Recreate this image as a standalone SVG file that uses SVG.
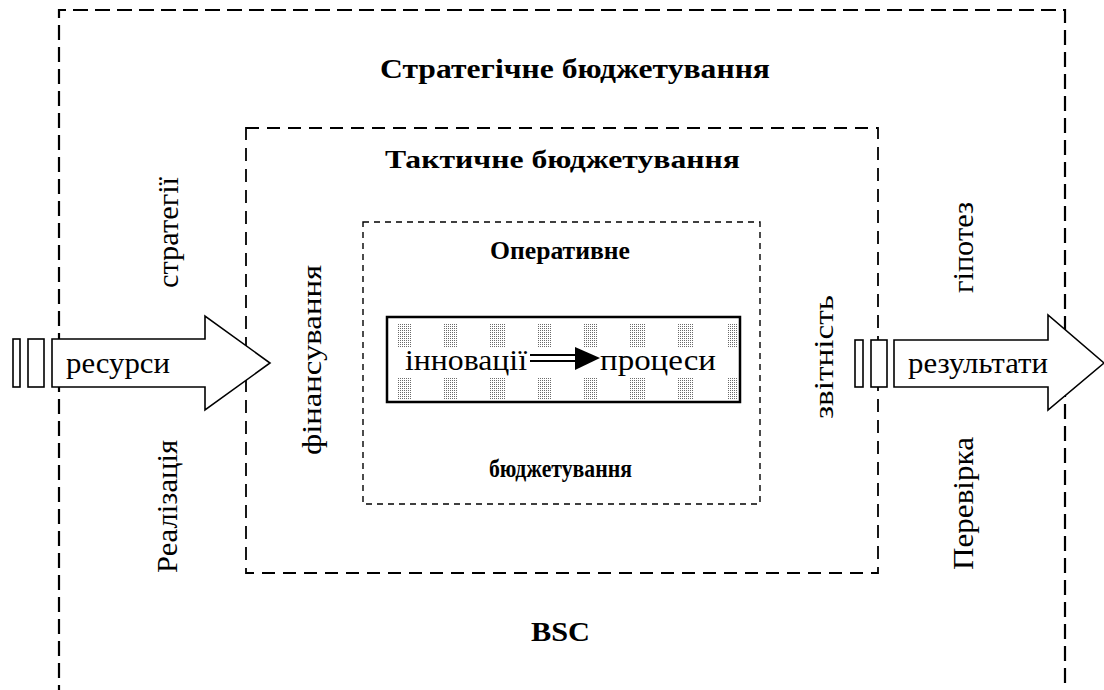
<svg xmlns="http://www.w3.org/2000/svg" width="1104" height="690" viewBox="0 0 1104 690">
<style>
.t{font-family:"Liberation Serif","Times New Roman",serif;fill:#000}
.b{font-weight:bold}
.frame{fill:none;stroke:#000}
.shape{fill:#fff;stroke:#000;stroke-width:1.6}
</style>
<defs>
<pattern id="dots" width="2" height="2" patternUnits="userSpaceOnUse">
<rect x="0" y="0" width="1" height="1" fill="#6a6a6a"/>
</pattern>
</defs>
<rect width="1104" height="690" fill="#fff"/>
<g id="strategic">
<path class="frame" d="M59 700 V10 H1065 V700" stroke-width="2.2" stroke-dasharray="15 7"/>
<text class="t b" x="380" y="78" font-size="28" textLength="390" lengthAdjust="spacingAndGlyphs">Стратегічне бюджетування</text>
<text class="t b" x="531" y="641" font-size="28" textLength="59" lengthAdjust="spacingAndGlyphs">BSC</text>
<text class="t" font-size="29" transform="translate(178 288) rotate(-90)" textLength="111" lengthAdjust="spacingAndGlyphs">стратегії</text>
<text class="t" font-size="29" transform="translate(177 573) rotate(-90)" textLength="133" lengthAdjust="spacingAndGlyphs">Реалізація</text>
<text class="t" font-size="29" transform="translate(973 293) rotate(-90)" textLength="91" lengthAdjust="spacingAndGlyphs">гіпотез</text>
<text class="t" font-size="29" transform="translate(973 570) rotate(-90)" textLength="133" lengthAdjust="spacingAndGlyphs">Перевірка</text>
</g>
<g id="tactical">
<rect class="frame" x="246" y="128" width="632" height="445" stroke-width="1.8" stroke-dasharray="13 8"/>
<text class="t b" x="385" y="168" font-size="26" textLength="355" lengthAdjust="spacingAndGlyphs">Тактичне бюджетування</text>
<text class="t" font-size="28" transform="translate(321 455) rotate(-90)" textLength="190" lengthAdjust="spacingAndGlyphs">фінансування</text>
<text class="t" font-size="28" transform="translate(833 419) rotate(-90)" textLength="124" lengthAdjust="spacingAndGlyphs">звітність</text>
</g>
<g id="operational">
<rect class="frame" x="363" y="222" width="397" height="282" stroke-width="1.4" stroke-dasharray="6 5"/>
<text class="t b" x="490" y="259" font-size="25" textLength="140" lengthAdjust="spacingAndGlyphs">Оперативне</text>
<text class="t b" x="489" y="477" font-size="26" textLength="143" lengthAdjust="spacingAndGlyphs">бюджетування</text>
</g>
<g id="process">
<rect x="387" y="317" width="353" height="85" fill="#fff" stroke="#000" stroke-width="2.5"/>
<g fill="url(#dots)">
<rect x="397" y="323" width="15" height="25"/><rect x="443" y="323" width="15" height="25"/><rect x="490" y="323" width="15" height="25"/><rect x="537" y="323" width="15" height="25"/><rect x="583" y="323" width="15" height="25"/><rect x="630" y="323" width="15" height="25"/><rect x="678" y="323" width="15" height="25"/><rect x="728" y="323" width="10" height="25"/>
<rect x="397" y="377" width="15" height="22"/><rect x="443" y="377" width="15" height="22"/><rect x="490" y="377" width="15" height="22"/><rect x="537" y="377" width="15" height="22"/><rect x="583" y="377" width="15" height="22"/><rect x="630" y="377" width="15" height="22"/><rect x="678" y="377" width="15" height="22"/><rect x="728" y="377" width="10" height="22"/>
</g>
<text class="t" x="405" y="370" font-size="29" textLength="122" lengthAdjust="spacingAndGlyphs">інновації</text>
<text class="t" x="600" y="370" font-size="29" textLength="116" lengthAdjust="spacingAndGlyphs">процеси</text>
</g>
<g id="connectors">
<g id="in-arrow">
<rect class="shape" x="13" y="339" width="7" height="48"/>
<rect class="shape" x="28" y="339" width="16" height="48"/>
<path class="shape" d="M52 339 H205 V316 L270 363 L205 410 V387 H52 Z"/>
<text class="t" x="66" y="373" font-size="29" textLength="104" lengthAdjust="spacingAndGlyphs">ресурси</text>
</g>
<g id="out-arrow">
<rect class="shape" x="855" y="340" width="8" height="47"/>
<rect class="shape" x="871" y="340" width="16" height="47"/>
<path class="shape" d="M894 340 H1048 V315 L1104 363 L1048 410 V387 H894 Z"/>
<text class="t" x="908" y="373" font-size="29" textLength="140" lengthAdjust="spacingAndGlyphs">результати</text>
</g>
<g id="inner-arrow">
<path d="M530 355 H580 M530 361 H580" stroke="#000" stroke-width="2" fill="none"/>
<path d="M575 347 L600 358 L575 370 Z" fill="#000"/>
</g>
</g>
</svg>
